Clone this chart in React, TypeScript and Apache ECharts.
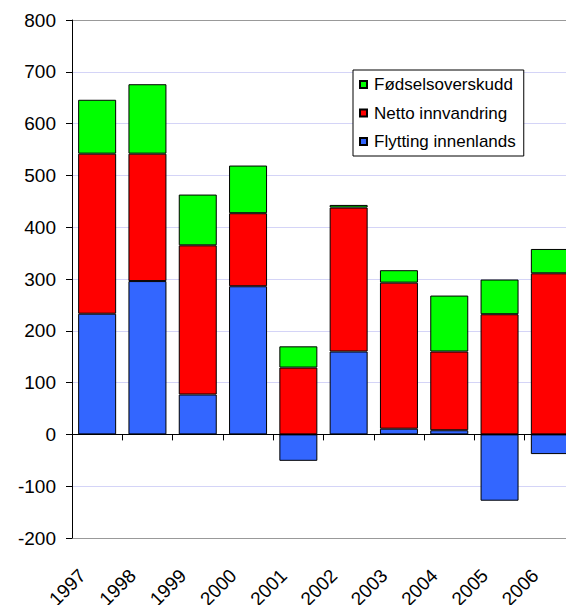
import React, { useEffect, useRef } from "react";
import * as echarts from "echarts";

const years = ["1997", "1998", "1999", "2000", "2001", "2002", "2003", "2004", "2005", "2006"];
const flytting = [233, 296, 77, 286, -51, 160, 11, 8, -128, -38];
const netto = [309, 246, 288, 141, 129, 278, 282, 152, 232, 311];
const fodsel = [104, 134, 98, 92, 41, 5, 24, 108, 67, 47];
const yTicks = { min: -200, max: 800, interval: 100 };

const FONT = "'Liberation Sans', Arial, sans-serif";

export default function App() {
  const ref = useRef<HTMLDivElement>(null);
  useEffect(() => {
    if (!ref.current) return;
    const chart = echarts.init(ref.current, undefined, { renderer: "svg" });
    const barStyle = (color: string) => ({ color, borderColor: "#000", borderWidth: 1 });
    const gridColors = ["#999999"].concat(Array(9).fill("#d4d4f7"), ["#999999"]);
    chart.setOption({
      animation: false,
      textStyle: { fontFamily: FONT },
      grid: { left: 72, top: 20, width: 503, height: 518, containLabel: false, outerBoundsMode: "none" },
      legend: {
        orient: "vertical",
        left: 353,
        top: 70,
        padding: [6, 8, 6, 6],
        itemGap: 11.5,
        itemWidth: 7,
        itemHeight: 7,
        icon: "rect",
        backgroundColor: "#fff",
        borderColor: "#000",
        borderWidth: 1,
        textStyle: { fontFamily: FONT, fontSize: 17, color: "#000", padding: [0, 0, 0, 2] },
        data: ["Fødselsoverskudd", "Netto innvandring", "Flytting innenlands"],
      },
      xAxis: {
        type: "category",
        data: years,
        axisLine: { onZero: true, lineStyle: { color: "#000", width: 1 } },
        axisTick: { show: true, length: 6, lineStyle: { color: "#000" } },
        axisLabel: {
          rotate: 45,
          margin: 19.5,
          padding: [0, 21, 0, 0],
          fontSize: 19,
          color: "#000",
          fontFamily: FONT,
        },
        splitLine: { show: false },
      },
      yAxis: {
        type: "value",
        min: yTicks.min,
        max: yTicks.max,
        interval: yTicks.interval,
        axisLine: { show: true, lineStyle: { color: "#000", width: 1 } },
        axisTick: { show: true, length: 6, lineStyle: { color: "#000" } },
        axisLabel: { fontSize: 19, color: "#000", margin: 16, fontFamily: FONT },
        splitLine: { show: true, lineStyle: { color: gridColors, width: 1 } },
      },
      series: [
        { name: "Flytting innenlands", type: "bar", stack: "t", barWidth: 38, data: flytting, itemStyle: barStyle("#3366ff") },
        { name: "Netto innvandring", type: "bar", stack: "t", data: netto, itemStyle: barStyle("#ff0000") },
        { name: "Fødselsoverskudd", type: "bar", stack: "t", data: fodsel, itemStyle: barStyle("#00ff00") },
      ],
    });
    return () => chart.dispose();
  }, []);
  return <div ref={ref} style={{ width: 566, height: 605, position: "absolute", left: 0, top: 0 }} />;
}
